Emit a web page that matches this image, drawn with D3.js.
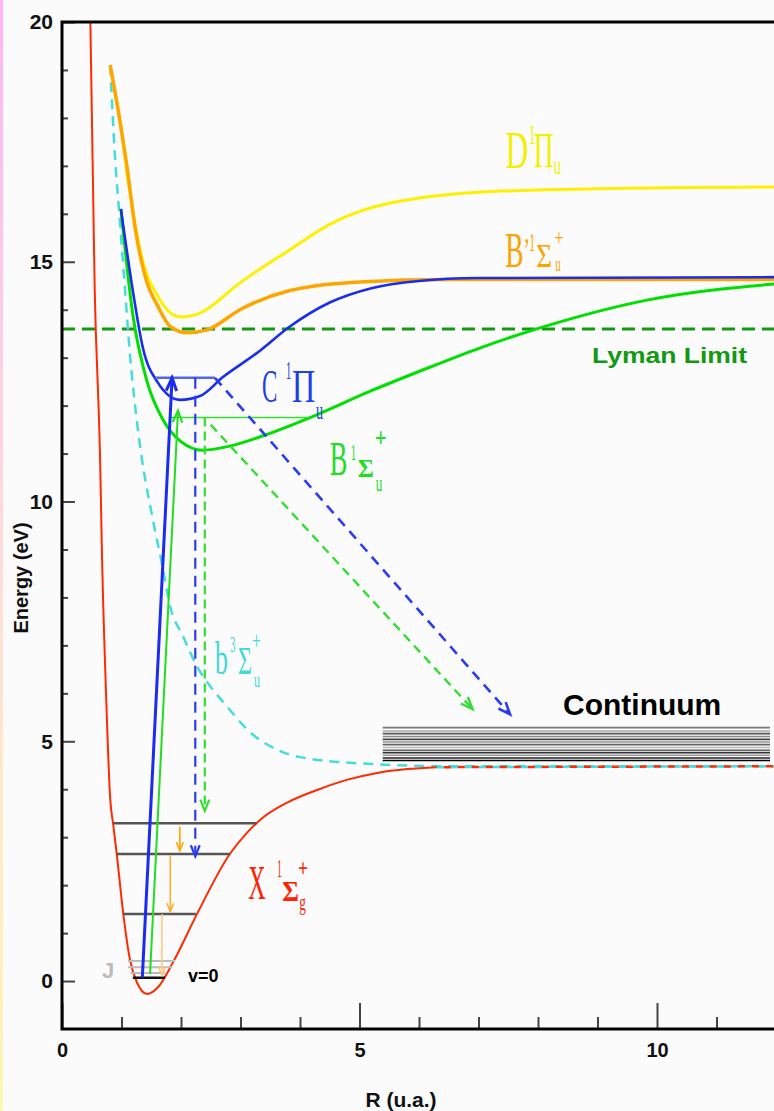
<!DOCTYPE html>
<html>
<head>
<meta charset="utf-8">
<script src="https://cdn.jsdelivr.net/npm/d3@7"></script>
<style>
  html, body { margin: 0; padding: 0; background: #fbfbfb; overflow: hidden; }
  svg { display: block; }
</style>
</head>
<body>
<svg id="chart" width="774" height="1111"></svg>
<script>
// H2 potential-energy curves: internuclear distance R (bohr) vs energy (eV)
const stateX  = [[0.47,20.5],[0.55,14.4],[0.64,10.9],[0.67,9.0],[0.74,6.0],[0.81,3.8],[0.86,3.27],[0.92,2.65],[1.03,1.4],[1.14,0.46],[1.26,-0.03],[1.43,-0.27],[1.62,-0.12],[1.87,0.4],[2.27,1.4],[2.82,2.65],[3.1,3.08],[3.4,3.43],[3.8,3.73],[4.3,3.99],[4.8,4.2],[5.3,4.34],[5.8,4.42],[6.3,4.46]];
const stateXTail = [[6.3,4.46],[12.2,4.48]];
const stateb  = [[0.81,19.1],[0.89,17.2],[0.97,15.9],[1.06,14.4],[1.14,13.1],[1.28,11.46],[1.53,9.6],[1.68,8.7],[1.82,7.8],[2.03,7.2],[2.27,6.56],[2.49,6.15],[2.77,5.73],[3.16,5.19],[3.61,4.83],[4.0,4.67],[5.3,4.52],[6.5,4.48],[12.2,4.48]];
const stateB  = [[0.99,16.1],[1.19,13.9],[1.43,12.5],[1.70,11.7],[2.0,11.25],[2.37,11.07],[2.8,11.15],[3.33,11.35],[4.17,11.75],[5.18,12.3],[6.18,12.8],[7.02,13.2],[7.98,13.6],[9.83,14.2],[12.2,14.56]];
const stateC  = [[0.99,16.1],[1.19,14.4],[1.36,13.2],[1.6,12.5],[1.98,12.12],[2.32,12.2],[2.71,12.6],[3.28,13.1],[3.83,13.65],[4.5,14.15],[5.2,14.45],[6.0,14.6],[7.0,14.66],[12.2,14.68]];
const stateBp = [[0.81,19.1],[0.97,17.96],[1.09,17.0],[1.23,15.7],[1.43,14.56],[1.6,14.1],[1.82,13.65],[2.1,13.52],[2.44,13.58],[2.99,14.0],[3.83,14.4],[5.0,14.58],[6.5,14.63],[12.2,14.63]];
const stateD  = [[0.82,19.0],[0.98,17.9],[1.11,16.7],[1.36,15.0],[1.6,14.3],[1.98,13.85],[2.32,13.93],[2.99,14.56],[3.83,15.25],[4.5,15.78],[5.0,16.05],[5.5,16.22],[6.0,16.33],[7.0,16.45],[9.0,16.52],[12.2,16.56]];

const lymanLimit = 13.6;

// vibrational levels of the ground state: [energy, R start, R end]
const vibLevels = [[3.29,0.86,3.27],[2.65,0.92,2.82],[1.40,1.03,2.25]];
const groundLevel = [0.07,1.19,1.73];
const rotLevels = [[0.42,1.11,1.90],[0.29,1.11,1.85],[0.17,1.15,1.73]];

// excited levels reached by absorption: [energy, R start, R end]
const levelC = [12.58,1.56,2.57];
const levelB = [11.75,1.80,4.15];

// continuum band (energies of the drawn lines) and its extent in R
const continuumE = [5.285,5.215,5.16,5.10,5.04,4.985,4.93,4.87,4.81,4.76,4.71,4.65,4.60];
const continuumShade = ["#777","#aaa","#555","#888","#444","#999","#666","#bbb","#666","#333","#999","#222","#000"];
const continuumR = [5.39,11.9];

// transitions: [[R0,E0],[R1,E1]]
const absorbC = [[1.35,0.07],[1.85,12.58]];
const absorbB = [[1.48,0.15],[1.95,11.9]];
const emitCbound = [[2.24,12.58],[2.24,2.6]];
const emitBbound = [[2.40,11.75],[2.40,3.55]];
const emitCfree = [[2.57,12.58],[7.53,5.56]];
const emitBfree = [[2.50,11.6],[6.90,5.67]];
const cascade = [[[1.98,3.22],[1.98,2.72]],[[1.82,2.62],[1.82,1.45]],[[1.68,1.40],[1.68,0.12]]];

// axis ticks
const yMajor = [0,5,10,15,20];
const yMinor = d3.range(1,20).filter(v => v % 5 !== 0);
const xMajor = [0,5,10];
const xMinor = [1,2,3,4,6,7,8,9,11,12];

const svg = d3.select("#chart");
const W = 774, H = 1111;
const mLeft = 62, mTop = 22, mBottom = 1029;
const x = d3.scaleLinear().domain([0,12]).range([mLeft, mLeft + 12*59.5]);
const y = d3.scaleLinear().domain([-1,20]).range([mBottom, mTop]);

// background and left edge strip
const defs = svg.append("defs");
const grad = defs.append("linearGradient").attr("id","edge").attr("x1",0).attr("y1",0).attr("x2",0).attr("y2",1);
grad.append("stop").attr("offset","0%").attr("stop-color","#ffb4f4");
grad.append("stop").attr("offset","55%").attr("stop-color","#ffe0d8");
grad.append("stop").attr("offset","100%").attr("stop-color","#fff8b0");
svg.append("rect").attr("width",W).attr("height",H).attr("fill","#fbfbfb");
svg.append("rect").attr("width",3).attr("height",H).attr("fill","url(#edge)");

defs.append("clipPath").attr("id","plot").append("rect")
  .attr("x", mLeft).attr("y", mTop).attr("width", x(12) - mLeft).attr("height", mBottom - mTop);

// axes
const tickFont = "'Liberation Sans', Arial, sans-serif";
function styleAxis(g) {
  g.select(".domain").remove();
  g.selectAll(".tick line").attr("stroke","#444").attr("stroke-width",2);
  g.selectAll(".tick text").attr("font-family",tickFont).attr("font-weight","bold")
    .attr("font-size",21).attr("fill","#111");
}
svg.append("g").attr("transform",`translate(${mLeft},0)`)
  .call(d3.axisLeft(y).tickValues(yMinor).tickSize(-6).tickFormat(""))
  .call(styleAxis);
svg.append("g").attr("transform",`translate(${mLeft},0)`)
  .call(d3.axisLeft(y).tickValues(yMajor).tickSize(-13).tickPadding(9).tickFormat(d3.format("d")))
  .call(styleAxis);
svg.append("g").attr("transform",`translate(0,${mBottom})`)
  .call(d3.axisBottom(x).tickValues(xMinor).tickSize(-12).tickFormat(""))
  .call(styleAxis);
svg.append("g").attr("transform",`translate(0,${mBottom})`)
  .call(d3.axisBottom(x).tickValues(xMajor).tickSize(-26).tickPadding(14).tickFormat(d3.format("d")))
  .call(styleAxis)
  .call(g => g.selectAll(".tick text").attr("font-size",20));

svg.append("text").attr("transform",`translate(28,578) rotate(-90)`)
  .attr("text-anchor","middle").attr("font-family",tickFont).attr("font-weight","bold")
  .attr("font-size",20).attr("fill","#111").text("Energy (eV)");
svg.append("text").attr("x",401).attr("y",1107)
  .attr("text-anchor","middle").attr("font-family",tickFont).attr("font-weight","bold")
  .attr("font-size",21).attr("fill","#111").text("R (u.a.)");

const plot = svg.append("g").attr("clip-path","url(#plot)");
const line = d3.line().x(d => x(d[0])).y(d => y(d[1])).curve(d3.curveMonotoneX);
const straight = d3.line().x(d => x(d[0])).y(d => y(d[1]));

// Lyman limit
plot.append("line").attr("x1",x(0)).attr("x2",x(12.2)).attr("y1",y(lymanLimit)).attr("y2",y(lymanLimit))
  .attr("stroke","#119911").attr("stroke-width",3).attr("stroke-dasharray","13,7");

// continuum lines
continuumE.forEach((e,i) => {
  plot.append("line").attr("x1",x(continuumR[0])).attr("x2",x(continuumR[1]))
    .attr("y1",y(e)).attr("y2",y(e)).attr("stroke",continuumShade[i]).attr("stroke-width",1.6);
});

// potential curves
function curve(data, color, width, dash) {
  const p = plot.append("path").attr("d", line(data)).attr("fill","none")
    .attr("stroke",color).attr("stroke-width",width).attr("stroke-linejoin","round");
  if (dash) p.attr("stroke-dasharray", dash);
  return p;
}
curve(stateb, "#44dcdc", 2.5, "10,7");
curve(stateXTail, "#44dcdc", 2.5, "7,7");
curve(stateXTail, "#ff2a00", 2.5, "7,7").attr("stroke-dashoffset", 7);
curve(stateX, "#ff2a00", 2);
curve(stateD, "#fff000", 3);
curve(stateBp, "#ffa500", 3.5);
curve(stateB, "#00e000", 3);
curve(stateC, "#1a2cf0", 2.6);

// ground-state levels
function level(l, color, width) {
  plot.append("line").attr("x1",x(l[1])).attr("x2",x(l[2])).attr("y1",y(l[0])).attr("y2",y(l[0]))
    .attr("stroke",color).attr("stroke-width",width);
}
rotLevels.forEach(l => level(l, "#bbbbbb", 2));
vibLevels.forEach(l => level(l, "#555555", 2.5));
level(groundLevel, "#111111", 2.5);
level(levelC, "#5566ee", 2.5);
level(levelB, "#33dd33", 1.5);

// transitions with open arrowheads
function arrow(seg, color, width, dash, headLen) {
  const [p0, p1] = seg;
  const a = [x(p0[0]), y(p0[1])], b = [x(p1[0]), y(p1[1])];
  const path = plot.append("path").attr("d", straight(seg)).attr("fill","none")
    .attr("stroke",color).attr("stroke-width",width);
  if (dash) path.attr("stroke-dasharray", dash);
  const ang = Math.atan2(b[1]-a[1], b[0]-a[0]);
  const L = headLen || 11, spread = 0.38;
  const h1 = [b[0] - L*Math.cos(ang - spread), b[1] - L*Math.sin(ang - spread)];
  const h2 = [b[0] - L*Math.cos(ang + spread), b[1] - L*Math.sin(ang + spread)];
  plot.append("path").attr("d", `M${h1}L${b}L${h2}`).attr("fill","none")
    .attr("stroke",color).attr("stroke-width",width).attr("stroke-linejoin","miter");
}
arrow(absorbC, "#1a2cf0", 3, null, 14);
arrow(absorbB, "#22dd22", 2, null, 13);
arrow(emitCbound, "#2a3cf0", 2.2, "11,7", 12);
arrow(emitBbound, "#33dd33", 2.2, "9,5", 12);
arrow(emitCfree, "#2a3cf0", 2.6, "10,7", 13);
arrow(emitBfree, "#33dd33", 2.4, "9,6", 13);
arrow(cascade[0], "#ffaa11", 1.8, null, 9);
arrow(cascade[1], "#ffaa22", 1.5, null, 9);
arrow(cascade[2], "#ffc878", 1.5, null, 9);

// state labels
function stateLabel(anchor, color, pieces) {
  const ax = x(anchor[0]), ay = y(anchor[1]);
  pieces.forEach(p => {
    svg.append("text")
      .attr("transform", `translate(${ax + p.dx},${ay + p.dy}) scale(${p.sx},1)`)
      .attr("font-family","'Liberation Serif', 'Times New Roman', serif")
      .attr("font-size", p.size).attr("font-weight", p.bold ? "bold" : "normal")
      .attr("fill", color).text(p.t);
  });
}
stateLabel([7.46,16.96], "#f2f000", [
  {t:"D", dx:0, dy:0, size:52, sx:0.6},
  {t:"1", dx:23, dy:-24, size:30, sx:0.45},
  {t:"Π", dx:28, dy:-1, size:50, sx:0.55},
  {t:"u", dx:48, dy:6, size:26, sx:0.55}
]);
stateLabel([7.45,14.90], "#ffa200", [
  {t:"B", dx:0, dy:0, size:50, sx:0.55},
  {t:"’", dx:18, dy:-6, size:34, sx:0.6},
  {t:"1", dx:24, dy:-16, size:26, sx:0.45},
  {t:"Σ", dx:31, dy:0, size:34, sx:0.8},
  {t:"+", dx:49, dy:-22, size:24, sx:0.7},
  {t:"u", dx:50, dy:4, size:22, sx:0.5}
]);
stateLabel([3.36,12.08], "#2040e0", [
  {t:"C", dx:0, dy:0, size:46, sx:0.5},
  {t:"1", dx:24, dy:-23, size:26, sx:0.4},
  {t:"Π", dx:30, dy:0, size:46, sx:0.7},
  {t:"u", dx:54, dy:17, size:26, sx:0.55}
]);
stateLabel([4.50,10.56], "#22dd22", [
  {t:"B", dx:0, dy:0, size:48, sx:0.55},
  {t:"1", dx:21, dy:-15, size:24, sx:0.45},
  {t:"Σ", dx:28, dy:2, size:26, sx:0.95, bold:true},
  {t:"+", dx:45, dy:-28, size:28, sx:0.75, bold:true},
  {t:"u", dx:46, dy:16, size:24, sx:0.55}
]);
stateLabel([2.57,6.40], "#44d8d8", [
  {t:"b", dx:0, dy:0, size:46, sx:0.56},
  {t:"3", dx:15, dy:-22, size:24, sx:0.45},
  {t:"Σ", dx:23, dy:0, size:40, sx:0.6},
  {t:"+", dx:37, dy:-25, size:26, sx:0.6},
  {t:"u", dx:39, dy:13, size:22, sx:0.55}
]);
stateLabel([3.13,1.71], "#ff2200", [
  {t:"X", dx:0, dy:0, size:48, sx:0.5},
  {t:"1", dx:29, dy:-22, size:26, sx:0.35},
  {t:"Σ", dx:34, dy:2, size:29, sx:0.88, bold:true},
  {t:"+", dx:50, dy:-22, size:26, sx:0.65, bold:true},
  {t:"g", dx:51, dy:11, size:24, sx:0.55}
]);

// annotations
svg.append("text").attr("x",592).attr("y",363).attr("font-family",tickFont).attr("font-weight","bold")
  .attr("font-size",22).attr("fill","#119911").attr("textLength",155).attr("lengthAdjust","spacingAndGlyphs")
  .text("Lyman Limit");
svg.append("text").attr("x",563).attr("y",715).attr("font-family",tickFont).attr("font-weight","bold")
  .attr("font-size",30).attr("fill","#000").text("Continuum");
svg.append("text").attr("x",188).attr("y",982).attr("font-family",tickFont).attr("font-weight","bold")
  .attr("font-size",18).attr("fill","#000").text("v=0");
svg.append("text").attr("x",102).attr("y",978).attr("font-family",tickFont).attr("font-weight","bold")
  .attr("font-size",22).attr("fill","#bbbbbb").text("J");

// frame
svg.append("rect").attr("x",mLeft).attr("y",mTop).attr("width",x(12)-mLeft).attr("height",mBottom-mTop)
  .attr("fill","none").attr("stroke","#000").attr("stroke-width",3);
</script>
</body>
</html>
